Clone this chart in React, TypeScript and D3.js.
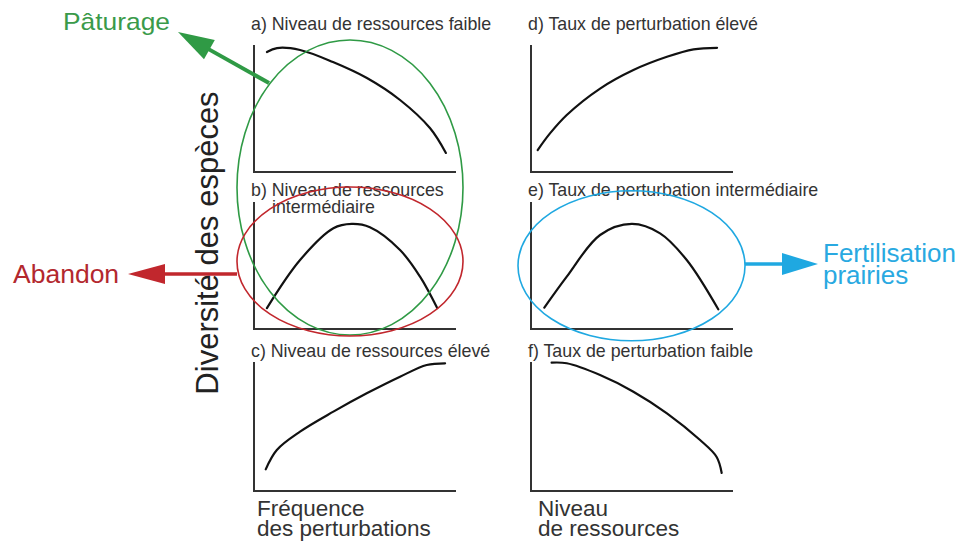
import React from 'react';
import * as d3 from 'd3';

// Curves, in a 0-10 space for each small panel
const curveA: [number, number][] = [[0.64, 9.45], [1.14, 9.76], [2.28, 9.61], [3.91, 8.66], [5.59, 7.4], [7.23, 5.67], [8.71, 3.46], [9.5, 1.5]];
const curveB: [number, number][] = [[0.64, 1.65], [2.28, 5.43], [3.93, 7.93], [4.84, 8.27], [5.74, 8.01], [7.23, 6.22], [8.22, 4.12], [9.07, 1.65]];
const curveC: [number, number][] = [[0.58, 1.68], [1.13, 3.18], [2.28, 4.6], [3.93, 6.15], [5.58, 7.57], [7.23, 8.86], [8.55, 9.77], [9.46, 9.9]];
const curveD: [number, number][] = [[0.33, 1.73], [0.94, 3.04], [1.77, 4.49], [3.42, 6.57], [5.07, 8.03], [6.73, 9.07], [8.05, 9.66], [9.21, 9.78]];
const curveE: [number, number][] = [[0.66, 1.68], [1.77, 4.12], [3.42, 7.4], [4.99, 8.27], [6.39, 7.53], [7.71, 5.43], [9.27, 1.55]];
const curveF: [number, number][] = [[1.02, 9.95], [1.77, 9.9], [3.42, 8.99], [5.07, 7.7], [6.73, 6.02], [8.37, 3.95], [9.19, 2.64], [9.44, 1.4]];

const panelTitles = [
  ['a) Niveau de ressources faible'],
  ['b) Niveau de ressources', 'intermédiaire'],
  ['c) Niveau de ressources élevé'],
  ['d) Taux de perturbation élevé'],
  ['e) Taux de perturbation intermédiaire'],
  ['f) Taux de perturbation faible'],
];
const panelCurves = [curveA, curveB, curveC, curveD, curveE, curveF];
const xAxisLabels = [['Fréquence', 'des perturbations'], ['Niveau', 'de ressources']];
const yAxisLabel = 'Diversité des espèces';

const colLeft = [254, 531];
const colWidth = 202;
const rowTops = [45, 202, 362];
const rowBottoms = [172, 329, 491];
const titleBaselines = [30, 196, 357];

const GREEN = '#2f9a45';
const RED = '#c1272d';
const BLUE = '#1fa8e1';

function arrow(tail: [number, number], tip: [number, number], headLen: number, headHalf: number) {
  const dx = tip[0] - tail[0];
  const dy = tip[1] - tail[1];
  const len = Math.hypot(dx, dy);
  const ux = dx / len, uy = dy / len;
  const bx = tip[0] - ux * headLen, by = tip[1] - uy * headLen;
  const px = -uy * headHalf, py = ux * headHalf;
  return {
    line: [tail, [bx + ux * 2, by + uy * 2]] as [number, number][],
    head: `${tip[0]},${tip[1]} ${bx + px},${by + py} ${bx - px},${by - py}`,
  };
}

export default function App() {
  const font = 'Liberation Sans, Arial, sans-serif';
  const line = d3.line<[number, number]>().curve(d3.curveCatmullRom.alpha(0.5));

  const panels = panelCurves.map((data, i) => {
    const col = Math.floor(i / 3);
    const row = i % 3;
    const x = d3.scaleLinear().domain([0, 10]).range([colLeft[col], colLeft[col] + colWidth]);
    const y = d3.scaleLinear().domain([0, 10]).range([rowBottoms[row], rowTops[row]]);
    return { data, col, row, x, y, title: panelTitles[i] };
  });

  const green = arrow([269, 83], [178, 32], 36, 11);
  const red = arrow([237, 274], [128, 274], 37, 10);
  const blue = arrow([745, 264], [818, 264], 36, 11);

  return (
    <svg width={963} height={545} style={{ position: 'absolute', left: 0, top: 0 }} fontFamily={font}>
      <rect width={963} height={545} fill="#fff" />
      {panels.map((p, i) => {
        const x0 = colLeft[p.col];
        const titleX = p.col === 0 ? 251 : 528;
        return (
          <g key={i}>
            <path
              d={`M${x0},${rowTops[p.row]}V${rowBottoms[p.row]}H${x0 + colWidth}`}
              fill="none" stroke="#333" strokeWidth={2}
            />
            <path
              d={line(p.data.map(([a, b]) => [p.x(a), p.y(b)]) as [number, number][]) ?? ''}
              fill="none" stroke="#111" strokeWidth={2.2} strokeLinecap="round"
            />
            <text x={titleX} y={titleBaselines[p.row]} fontSize={17.8} fill="#333">{p.title[0]}</text>
            {p.title[1] && (
              <text x={titleX + 21} y={titleBaselines[p.row] + 17} fontSize={17.8} fill="#333">{p.title[1]}</text>
            )}
          </g>
        );
      })}

      {xAxisLabels.map((lbl, i) => (
        <text key={i} x={i === 0 ? 257 : 538} fontSize={22.5} fill="#333">
          <tspan x={i === 0 ? 257 : 538} y={516}>{lbl[0]}</tspan>
          <tspan x={i === 0 ? 257 : 538} y={536}>{lbl[1]}</tspan>
        </text>
      ))}

      <text transform="translate(218,243) rotate(-90)" textAnchor="middle" fontSize={31} fill="#222">{yAxisLabel}</text>

      <ellipse cx={350} cy={187.5} rx={113} ry={147.5} fill="none" stroke={GREEN} strokeWidth={1.6} />
      <ellipse cx={350} cy={261.5} rx={113} ry={74.5} fill="none" stroke={RED} strokeWidth={1.6} />
      <ellipse cx={631.5} cy={265.7} rx={113.5} ry={75} fill="none" stroke={BLUE} strokeWidth={1.6} />

      <path d={d3.line()(green.line) ?? ''} stroke={GREEN} strokeWidth={4} />
      <polygon points={green.head} fill={GREEN} />
      <path d={d3.line()(red.line) ?? ''} stroke={RED} strokeWidth={3.5} />
      <polygon points={red.head} fill={RED} />
      <path d={d3.line()(blue.line) ?? ''} stroke={BLUE} strokeWidth={3.5} />
      <polygon points={blue.head} fill={BLUE} />

      <text x={63} y={30} fontSize={24} fill="#3a9a4a" textLength={107} lengthAdjust="spacingAndGlyphs">Pâturage</text>
      <text x={13} y={283} fontSize={26.5} fill="#b3282e">Abandon</text>
      <text fontSize={26} fill="#29a9e1">
        <tspan x={823} y={262}>Fertilisation</tspan>
        <tspan x={823} y={284}>prairies</tspan>
      </text>
    </svg>
  );
}
